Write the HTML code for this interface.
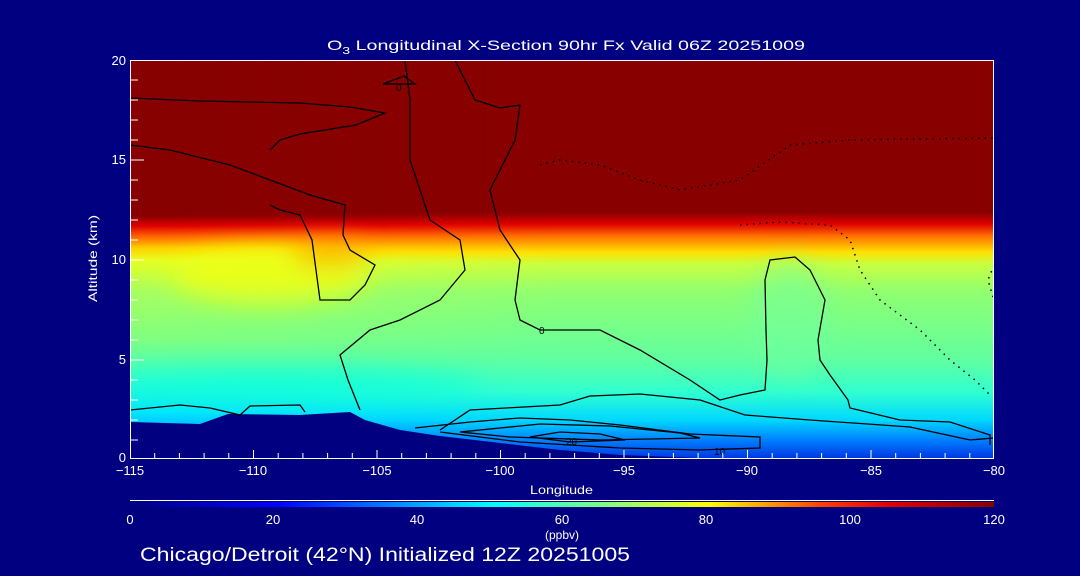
<!DOCTYPE html>
<html><head><style>
html,body{margin:0;padding:0;background:#000080;}
svg{display:block;}
text{font-family:"Liberation Sans",sans-serif;fill:#fff;}
</style></head><body>
<svg width="1080" height="576" viewBox="0 0 1080 576" xmlns="http://www.w3.org/2000/svg">
<defs>
<linearGradient id="vl" x1="0" y1="460" x2="0" y2="60" gradientUnits="userSpaceOnUse">
<stop offset="0" stop-color="#0050ff"/>
<stop offset="0.06" stop-color="#00a0ff"/>
<stop offset="0.12" stop-color="#00e8ff"/>
<stop offset="0.2" stop-color="#30ffd0"/>
<stop offset="0.3" stop-color="#80ff80"/>
<stop offset="0.42" stop-color="#a8ff60"/>
<stop offset="0.5" stop-color="#e8ff20"/>
<stop offset="0.53" stop-color="#ffd000"/>
<stop offset="0.56" stop-color="#ff6000"/>
<stop offset="0.585" stop-color="#e00000"/>
<stop offset="0.61" stop-color="#880000"/>
<stop offset="1" stop-color="#880000"/>
</linearGradient>
<linearGradient id="vr" x1="0" y1="460" x2="0" y2="60" gradientUnits="userSpaceOnUse">
<stop offset="0" stop-color="#0030e0"/>
<stop offset="0.05" stop-color="#0080ff"/>
<stop offset="0.1" stop-color="#00d8ff"/>
<stop offset="0.17" stop-color="#30ffd0"/>
<stop offset="0.25" stop-color="#60ffa0"/>
<stop offset="0.42" stop-color="#90ff70"/>
<stop offset="0.49" stop-color="#c8ff40"/>
<stop offset="0.52" stop-color="#ffe000"/>
<stop offset="0.56" stop-color="#ff7000"/>
<stop offset="0.59" stop-color="#e00000"/>
<stop offset="0.62" stop-color="#880000"/>
<stop offset="1" stop-color="#880000"/>
</linearGradient>
<linearGradient id="cb" x1="130" y1="0" x2="994" y2="0" gradientUnits="userSpaceOnUse">
<stop offset="0" stop-color="#000080"/>
<stop offset="0.17" stop-color="#0000ff"/>
<stop offset="0.3" stop-color="#0080ff"/>
<stop offset="0.42" stop-color="#00ffff"/>
<stop offset="0.55" stop-color="#80ff80"/>
<stop offset="0.67" stop-color="#ffff00"/>
<stop offset="0.8" stop-color="#ff4000"/>
<stop offset="0.88" stop-color="#e00000"/>
<stop offset="1" stop-color="#880000"/>
</linearGradient>
<linearGradient id="blend" x1="130" y1="0" x2="994" y2="0" gradientUnits="userSpaceOnUse">
<stop offset="0" stop-color="#fff" stop-opacity="0"/>
<stop offset="0.5" stop-color="#fff" stop-opacity="1"/>
</linearGradient>
<mask id="m"><rect x="130" y="60" width="864" height="400" fill="url(#blend)"/></mask>
<filter id="bl"><feGaussianBlur stdDeviation="12"/></filter>
<clipPath id="pc"><rect x="130" y="60" width="864" height="398"/></clipPath>
</defs>
<text x="327" y="50" font-size="14" textLength="478" lengthAdjust="spacingAndGlyphs">O<tspan font-size="10" dy="4">3</tspan><tspan dy="-4"> Longitudinal X-Section 90hr  Fx Valid 06Z 20251009</tspan></text>
<g clip-path="url(#pc)">
<rect x="130" y="60" width="864" height="400" fill="url(#vl)"/>
<rect x="130" y="60" width="864" height="400" fill="url(#vr)" mask="url(#m)"/>
<g filter="url(#bl)">
<ellipse cx="270" cy="275" rx="100" ry="28" fill="#f0ff10" opacity="0.8"/>
<ellipse cx="330" cy="252" rx="40" ry="14" fill="#ff9000" opacity="0.6"/>
<ellipse cx="790" cy="320" rx="40" ry="60" fill="#70ffa0" opacity="0.5"/>
<ellipse cx="300" cy="385" rx="180" ry="14" fill="#00ffe0" opacity="0.6"/>
</g>
<polygon points="130,422 200,424 228,414 300,415 350,412 365,420 400,430 440,436 500,443 560,450 620,455 700,458 994,460 994,470 130,470" fill="#000080"/>
</g>
<g fill="none" stroke="#000" stroke-width="1.3">
<path d="M130,98 L200,101 L300,103 L350,107 L385,113 L356,125 L300,134 L280,140 L270,150"/>
<path d="M130,145 L170,150 L230,165 L310,195 L345,205 L343,235 L350,250 L375,265 L365,285 L350,300 L320,300 L312,240 L300,215 L280,210 L270,205"/>
<path d="M405,60 L410,100 L410,160 L430,220 L460,240 L465,270 L440,300 L400,320 L370,330 L340,355 L348,380 L360,410"/>
<path d="M455,60 L475,100 L500,108 L520,105 L515,140 L490,190 L500,230 L520,260 L515,300 L520,320 L540,330 L600,330 L640,350 L690,380 L720,400 L740,395 L765,390 L767,360 L766,330 L765,280 L770,260 L795,257 L810,270 L825,300 L818,340 L820,360 L830,375 L848,400 L850,408 L900,420 L950,422 L990,435 L990,445"/>
<path d="M130,410 L180,405 L210,408 L240,415 L250,406 L300,405 L305,412"/>
<path d="M440,430 L470,410 L560,405 L590,396 L640,394 L700,400 L745,415 L810,420 L910,427 L970,440 L994,438"/>
<path d="M415,428 L470,422 L520,418 L570,420 L620,425 L690,434 L760,437 L760,448 L700,450 L620,448 L520,442 L440,432"/>
<path d="M460,432 L540,424 L610,426 L680,433 L700,438 L600,440 L510,437 Z"/>
<path d="M530,437 L560,432 L600,434 L625,440 L570,442 Z"/>
<path d="M383,84 L404,76 L415,84 Z"/>
</g>
<g fill="none" stroke="#000" stroke-width="1.5" stroke-dasharray="1.5,5">
<path d="M540,165 L560,160 L600,165 L640,180 L680,190 L740,180 L790,145 L850,140 L994,138"/>
<path d="M740,225 L780,222 L830,225 L850,240 L860,270 L880,300 L920,330 L950,360 L975,380 L990,395"/>
<path d="M994,265 L988,280 L994,300"/>
</g>
<g font-size="10">
<text x="539" y="334" style="fill:#000">0</text>
<text x="566" y="445" style="fill:#000">20</text>
<text x="714" y="455" style="fill:#000">10</text>
<text x="396" y="91" style="fill:#000">0</text>
</g>
<g stroke="#fff" stroke-width="1">
<line x1="130" y1="60.5" x2="994" y2="60.5"/>
<line x1="130" y1="458.5" x2="994" y2="458.5"/>
<line x1="130.5" y1="60" x2="130.5" y2="459"/>
<line x1="993.5" y1="60" x2="993.5" y2="459"/>
</g>
<g stroke="#fff">
<path d="M130,440h8M130,420h8M130,400h8M130,380h8M130,360h14M130,340h8M130,320h8M130,300h8M130,280h8M130,260h14M130,240h8M130,220h8M130,200h8M130,180h8M130,160h14M130,140h8M130,120h8M130,100h8M130,80h8"/>
<path d="M154.7,458v-5M179.4,458v-5M204.1,458v-5M228.8,458v-5M253.5,458v-8M278.2,458v-5M302.9,458v-5M327.6,458v-5M352.3,458v-5M377,458v-8M401.7,458v-5M426.4,458v-5M451.1,458v-5M475.8,458v-5M500.5,458v-8M525.2,458v-5M549.9,458v-5M574.6,458v-5M599.3,458v-5M624,458v-8M648.7,458v-5M673.4,458v-5M698.1,458v-5M722.8,458v-5M747.5,458v-8M772.2,458v-5M796.9,458v-5M821.6,458v-5M846.3,458v-5M871,458v-8M895.7,458v-5M920.4,458v-5M945.1,458v-5M969.8,458v-5"/>
</g>
<g font-size="13" text-anchor="end">
<text x="126" y="65">20</text><text x="126" y="164">15</text><text x="126" y="264">10</text><text x="126" y="364">5</text><text x="126" y="462">0</text>
</g>
<g font-size="13" text-anchor="middle">
<text x="130" y="475">−115</text><text x="253" y="475">−110</text><text x="377" y="475">−105</text><text x="500" y="475">−100</text><text x="624" y="475">−95</text><text x="747" y="475">−90</text><text x="871" y="475">−85</text><text x="994" y="475">−80</text>
</g>
<text x="530" y="494" font-size="12" textLength="63" lengthAdjust="spacingAndGlyphs">Longitude</text>
<text x="97" y="302" font-size="12" textLength="87" lengthAdjust="spacingAndGlyphs" transform="rotate(-90 97 302)">Altitude (km)</text>
<line x1="130" y1="500.5" x2="994" y2="500.5" stroke="#fff"/>
<rect x="130" y="502" width="864" height="5" fill="url(#cb)"/>
<g font-size="13" text-anchor="middle">
<text x="130" y="524">0</text><text x="273" y="524">20</text><text x="417" y="524">40</text><text x="562" y="524">60</text><text x="706" y="524">80</text><text x="850" y="524">100</text><text x="994" y="524">120</text>
<text x="562" y="539" font-size="12">(ppbv)</text>
</g>
<text x="140" y="561" font-size="19" textLength="490" lengthAdjust="spacingAndGlyphs">Chicago/Detroit (42°N) Initialized 12Z 20251005</text>
</svg>
</body></html>
